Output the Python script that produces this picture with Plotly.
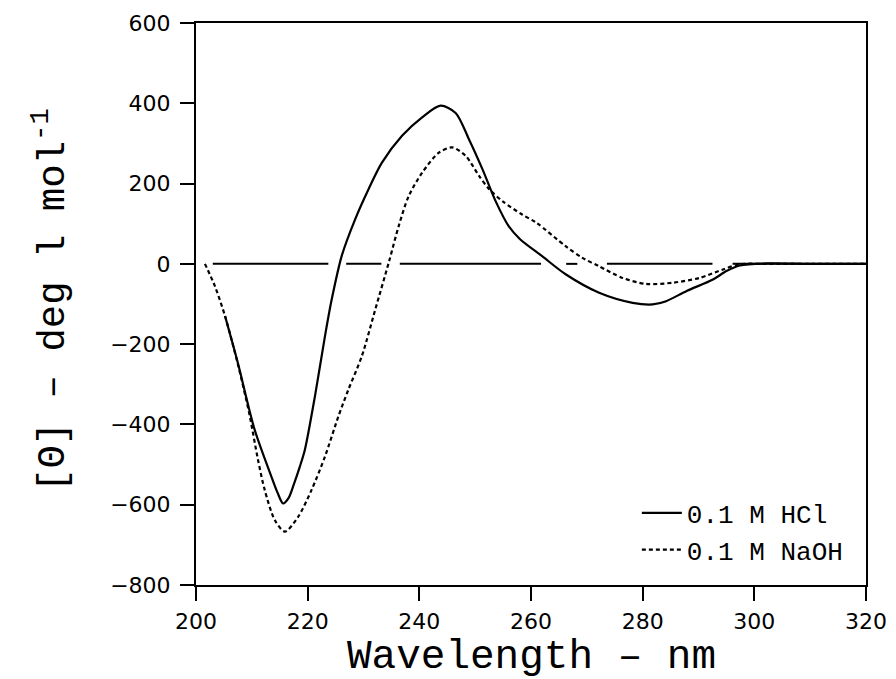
import plotly.graph_objects as go

# --- data ---
hcl_nm = [205.2, 207.5, 210.5, 213.5, 214.6, 215.6, 216.6, 217.6, 218.6, 219.5,
          221.3, 223.1, 224.3, 226.1, 228.5, 230.9, 233.3, 236.9, 240.5, 243.8,
          246.5, 248.9, 251.3, 253.7, 256.0, 258.0, 262.0, 266.2, 272.2, 278.2,
          281.8, 284.2, 287.8, 292.6, 295.0, 297.4, 302.2, 310.0, 320.0]
hcl_val = [-130, -247, -413, -530, -570, -597, -583, -546, -505, -463,
           -330, -180, -89, 20, 111, 186, 252, 319, 365, 394,
           376, 310, 236, 155, 94, 62, 19, -26, -72, -97,
           -101, -93, -68, -39, -18, -4, 1, 0, 0]

naoh_nm = [201.6, 203.4, 205.2, 207.5, 209.5, 211.1, 212.3, 214.1, 215.9, 218.3,
           220.7, 223.1, 225.5, 227.3, 229.7, 232.1, 234.6, 236.3, 238.1, 240.5,
           243.5, 245.9, 248.3, 250.7, 252.5, 255.0, 258.4, 261.0, 266.2, 269.2,
           272.2, 276.4, 280.6, 285.4, 290.2, 294.4, 297.4, 302.0, 310.0, 320.0]
naoh_val = [0, -56, -130, -250, -370, -488, -563, -638, -667, -630,
            -563, -480, -380, -313, -230, -114, 7, 94, 169, 227,
            277, 290, 269, 219, 186, 155, 123, 102, 44, 15,
            -6, -35, -50, -47, -35, -14, -1, 0, 0, 0]

# broken zero baseline (segments separated by None)
base_nm = [203.0, 223.7, None, 226.9, 233.2, None, 236.5, 261.8, None,
           266.3, 268.3, None, 273.6, 292.5, None, 296.1, 320.0]
base_val = [0, 0, None, 0, 0, None, 0, 0, None, 0, 0, None, 0, 0, None, 0, 0]

x_ticks = [200, 220, 240, 260, 280, 300, 320]
y_ticks = [-800, -600, -400, -200, 0, 200, 400, 600]

x_title = "Wavelength – nm"
y_title = "[Θ] – deg l mol<sup>-1</sup>"

fig = go.Figure()
fig.add_trace(go.Scatter(x=base_nm, y=base_val, mode="lines",
                         line=dict(color="black", width=2),
                         showlegend=False, hoverinfo="skip", connectgaps=False))
fig.add_trace(go.Scatter(x=hcl_nm, y=hcl_val, mode="lines", name="0.1 M HCl",
                         line=dict(color="black", width=2.2, shape="spline", smoothing=0.8)))
fig.add_trace(go.Scatter(x=naoh_nm, y=naoh_val, mode="lines", name="0.1 M NaOH",
                         line=dict(color="black", width=2.2, dash="4px,3px",
                                   shape="spline", smoothing=0.8)))

axis_common = dict(showline=True, linecolor="black", linewidth=2, mirror=True,
                   ticks="outside", ticklen=14, tickwidth=2, tickcolor="black",
                   showgrid=False, zeroline=False, automargin=False,
                   tickfont=dict(family="DejaVu Sans", size=22, color="black"))

fig.update_layout(
    width=888, height=671,
    margin=dict(l=188, r=30, t=15, b=94),
    paper_bgcolor="white", plot_bgcolor="white",
    showlegend=True,
    legend=dict(x=0.658, y=0.17, xanchor="left", yanchor="top",
                bgcolor="rgba(0,0,0,0)", borderwidth=0,
                font=dict(family="Liberation Mono", size=26, color="black"),
                itemwidth=40, tracegroupgap=0),
    xaxis=dict(range=[200, 320], tickvals=x_ticks, ticklabelstandoff=2, **axis_common),
    yaxis=dict(range=[-800, 600], tickvals=y_ticks, ticklabelstandoff=5, **axis_common),
    annotations=[
        dict(text=x_title, xref="paper", yref="paper", x=0.5, y=-0.129,
             xanchor="center", yanchor="middle", showarrow=False,
             font=dict(family="Liberation Mono", size=41, color="black")),
        dict(text=y_title, xref="paper", yref="paper", x=-0.218, y=0.507,
             xanchor="center", yanchor="middle", showarrow=False, textangle=-90,
             font=dict(family="Liberation Mono", size=39, color="black")),
    ],
)

fig.write_html("out.html")
